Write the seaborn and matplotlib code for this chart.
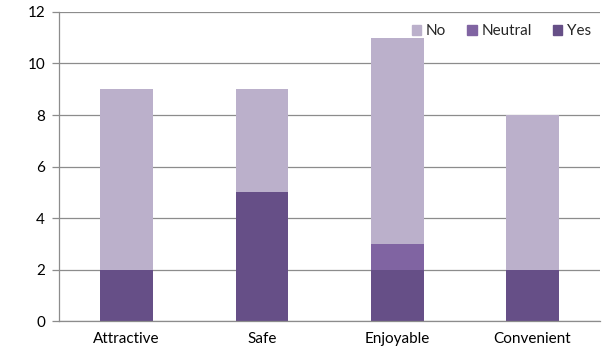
import matplotlib
matplotlib.use("Agg")
import matplotlib.pyplot as plt
import seaborn as sns
import pandas as pd
from matplotlib.patches import Patch

categories = ["Attractive", "Safe", "Enjoyable", "Convenient"]
yes_counts = [2, 5, 2, 2]
neutral_counts = [0, 0, 1, 0]
no_counts = [7, 4, 8, 6]

colors = {"Yes": "#664F87", "Neutral": "#8064A2", "No": "#BBB0CB"}

sns.set_theme(style="white")
plt.rcParams["font.family"] = ["Lato", "DejaVu Sans"]

df = pd.DataFrame({"category": categories, "Yes": yes_counts,
                   "Neutral": neutral_counts, "No": no_counts})
df["base_neutral"] = df["Yes"]
df["base_no"] = df["Yes"] + df["Neutral"]

fig = plt.figure(figsize=(6.07, 3.57), dpi=100)
ax = fig.add_axes([0.0972, 0.1008, 0.8913, 0.8656])

w = 0.39
sns.barplot(data=df, x="category", y="Yes", color=colors["Yes"], width=w,
            saturation=1, linewidth=0, ax=ax)
sns.barplot(data=df, x="category", y="Neutral", bottom=df["base_neutral"],
            color=colors["Neutral"], width=w, saturation=1, linewidth=0, ax=ax)
sns.barplot(data=df, x="category", y="No", bottom=df["base_no"],
            color=colors["No"], width=w, saturation=1, linewidth=0, ax=ax)

ax.set_xlim(-0.5, 3.5)
ax.set_ylim(0, 12)
ax.set_yticks(range(0, 13, 2))
ax.set_xlabel("")
ax.set_ylabel("")

grid_color = "#8C8C8C"
ax.yaxis.grid(True, color=grid_color, linewidth=0.9)
ax.set_axisbelow(True)
for s in ["top", "right"]:
    ax.spines[s].set_visible(False)
for s in ["left", "bottom"]:
    ax.spines[s].set_color(grid_color)
    ax.spines[s].set_linewidth(0.9)

ax.set_xticks([-0.5, 0.5, 1.5, 2.5, 3.5], minor=True)
ax.tick_params(axis="x", which="major", length=0, pad=8, labelsize=11, colors="black")
ax.tick_params(axis="x", which="minor", length=5, width=0.9, color=grid_color, direction="out")
ax.tick_params(axis="y", which="major", length=5, width=0.9, color=grid_color,
               direction="out", labelsize=11, labelcolor="black", pad=5)
ax.tick_params(axis="y", left=True)

handles = [Patch(color=colors[k], label=k) for k in ["No", "Neutral", "Yes"]]
ax.legend(handles=handles, loc="upper right", ncol=3, frameon=False,
          bbox_to_anchor=(1.0, 0.99), handlelength=0.6, handleheight=0.6,
          handletextpad=0.3, columnspacing=1.4, fontsize=11, borderaxespad=0.2)

fig.savefig("out.png", dpi=100)
